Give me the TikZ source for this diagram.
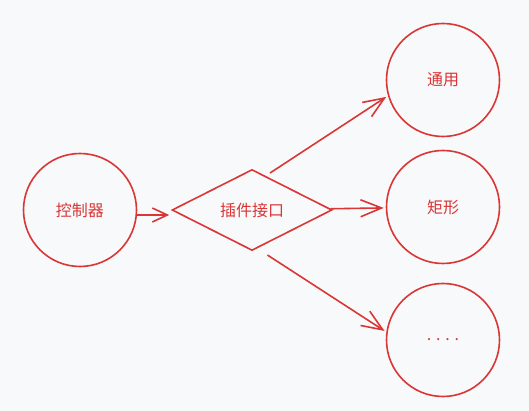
\documentclass[tikz,border=0pt]{standalone}
\usepackage{fontspec}
\setmainfont{Noto Sans CJK SC}
\usepackage{tikz}
\usetikzlibrary{shapes.geometric,arrows.meta}
\definecolor{inkred}{HTML}{D93636}
\definecolor{paper}{HTML}{F8F9FA}

\begin{document}
\begin{tikzpicture}[x=1pt,y=1pt,shorten >=2pt,>={Straight Barb[length=21pt,width=17pt]},color=inkred,line width=1.6pt,
    font=\fontsize{16pt}{19pt}\selectfont,
    unit/.style={circle,draw,minimum size=113pt,inner sep=0pt},
    port/.style={diamond,draw,aspect=2,minimum width=160pt,minimum height=81pt,inner sep=0pt}]
    \useasboundingbox[fill=paper] (-80,210) rectangle (449,-201);

    \node[unit] (ctrl) {控制器};
    \node[port] (plugin) [right of=ctrl,node distance=172pt] {插件接口};
    \node[unit] (rect) [right of=plugin,node distance=191pt,yshift=3pt] {矩形};
    \node[unit] (general) [above of=rect,node distance=127pt] {通用};
    \node[unit] (more) [below of=rect,node distance=133pt] {. . . .};

    \path[->] ([yshift=-5pt]ctrl.east) edge [-{Straight Barb[length=15pt,width=14pt]}] ([yshift=-5pt]plugin.west)
    (plugin.68) edge [shorten <=5pt] (general.196)
    (plugin) edge (rect)
    (plugin.-82) edge [shorten <=12pt] (more.172);
\end{tikzpicture}
\end{document}
